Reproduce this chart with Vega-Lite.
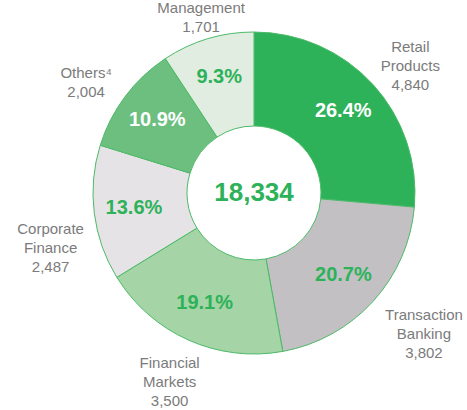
{
  "$schema": "https://vega.github.io/schema/vega-lite/v6.json",
  "width": 426,
  "height": 386,
  "autosize": "none",
  "padding": {"left": 41, "top": 0, "right": 0, "bottom": 24},
  "background": "white",
  "view": {"stroke": null},
  "data": {
    "values": [
      {"name": "Retail Products", "value": 4840},
      {"name": "Transaction Banking", "value": 3802},
      {"name": "Financial Markets", "value": 3500},
      {"name": "Corporate Finance", "value": 2487},
      {"name": "Others⁴", "value": 2004},
      {"name": "Management", "value": 1701}
    ]
  },
  "transform": [
    {"window": [{"op": "row_number", "as": "idx"}]},
    {"joinaggregate": [{"op": "sum", "field": "value", "as": "total"}]},
    {"calculate": "datum.value / datum.total", "as": "pct"},
    {"calculate": "split(datum.name + ' ' + format(datum.value, ','), ' ')", "as": "lines"}
  ],
  "layer": [
    {
      "mark": {"type": "arc", "innerRadius": 67, "outerRadius": 161, "stroke": "#4cba68", "strokeWidth": 1},
      "encoding": {
        "theta": {"field": "value", "type": "quantitative", "stack": true},
        "order": {"field": "idx", "type": "quantitative"},
        "color": {
          "field": "name",
          "type": "nominal",
          "scale": {
            "domain": ["Retail Products", "Transaction Banking", "Financial Markets", "Corporate Finance", "Others⁴", "Management"],
            "range": ["#2db25a", "#c2c0c3", "#a5d4a6", "#e5e3e5", "#6cbf7f", "#e2ede1"]
          },
          "legend": null
        }
      }
    },
    {
      "mark": {"type": "text", "radius": 121, "font": "Liberation Sans", "fontSize": 20, "fontWeight": "bold", "align": "center", "baseline": "middle"},
      "encoding": {
        "theta": {"field": "value", "type": "quantitative", "stack": true},
        "order": {"field": "idx", "type": "quantitative"},
        "text": {"field": "pct", "type": "quantitative", "format": ".1%"},
        "color": {
          "condition": {"test": "datum.name === 'Retail Products' || datum.name === 'Others⁴'", "value": "#ffffff"},
          "value": "#2db25a"
        }
      }
    },
    {
      "mark": {"type": "text", "radius": 212, "dy": -3, "font": "Liberation Sans", "fontSize": 15, "lineHeight": 19, "color": "#7b7b7b", "align": "center", "baseline": "middle"},
      "encoding": {
        "theta": {"field": "value", "type": "quantitative", "stack": true},
        "order": {"field": "idx", "type": "quantitative"},
        "text": {"condition": {"test": "datum.name === 'Retail Products'", "field": "lines"}, "value": ""}
      }
    },
    {
      "mark": {"type": "text", "radius": 210, "dy": 6, "font": "Liberation Sans", "fontSize": 15, "lineHeight": 19, "color": "#7b7b7b", "align": "center", "baseline": "middle"},
      "encoding": {
        "theta": {"field": "value", "type": "quantitative", "stack": true},
        "order": {"field": "idx", "type": "quantitative"},
        "text": {"condition": {"test": "datum.name === 'Others⁴'", "field": "lines"}, "value": ""}
      }
    },
    {
      "mark": {"type": "text", "radius": 207, "dy": -19, "font": "Liberation Sans", "fontSize": 15, "lineHeight": 19, "color": "#7b7b7b", "align": "center", "baseline": "middle"},
      "encoding": {
        "theta": {"field": "value", "type": "quantitative", "stack": true},
        "order": {"field": "idx", "type": "quantitative"},
        "text": {"condition": {"test": "datum.name === 'Financial Markets'", "field": "lines"}, "value": ""}
      }
    },
    {
      "mark": {"type": "text", "radius": 205, "dy": 10, "font": "Liberation Sans", "fontSize": 15, "lineHeight": 19, "color": "#7b7b7b", "align": "center", "baseline": "middle"},
      "encoding": {
        "theta": {"field": "value", "type": "quantitative", "stack": true},
        "order": {"field": "idx", "type": "quantitative"},
        "text": {"condition": {"test": "datum.name === 'Corporate Finance'", "field": "lines"}, "value": ""}
      }
    },
    {
      "mark": {"type": "text", "radius": 230, "dy": -33, "font": "Liberation Sans", "fontSize": 15, "lineHeight": 19, "color": "#7b7b7b", "align": "center", "baseline": "middle"},
      "encoding": {
        "theta": {"field": "value", "type": "quantitative", "stack": true},
        "order": {"field": "idx", "type": "quantitative"},
        "text": {"condition": {"test": "datum.name === 'Transaction Banking'", "field": "lines"}, "value": ""}
      }
    },
    {
      "mark": {"type": "text", "radius": 184, "dy": -9, "font": "Liberation Sans", "fontSize": 15, "lineHeight": 19, "color": "#7b7b7b", "align": "center", "baseline": "middle"},
      "encoding": {
        "theta": {"field": "value", "type": "quantitative", "stack": true},
        "order": {"field": "idx", "type": "quantitative"},
        "text": {"condition": {"test": "datum.name === 'Management'", "field": "lines"}, "value": ""}
      }
    },
    {
      "transform": [{"aggregate": [{"op": "sum", "field": "value", "as": "sum"}]}],
      "mark": {"type": "text", "font": "Liberation Sans", "fontSize": 26, "fontWeight": "bold", "color": "#2db25a", "align": "center", "baseline": "middle"},
      "encoding": {
        "text": {"field": "sum", "type": "quantitative", "format": ","}
      }
    }
  ]
}
